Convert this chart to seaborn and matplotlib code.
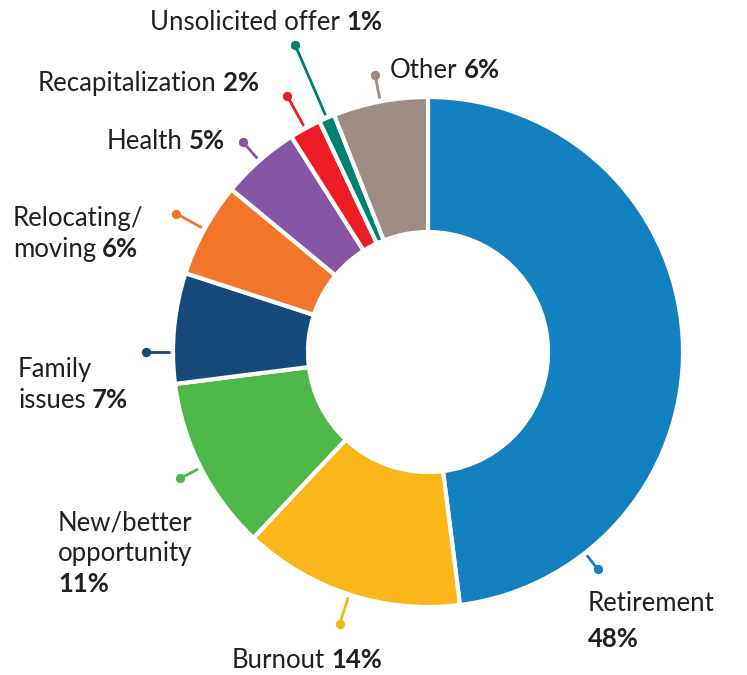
import numpy as np
import seaborn as sns
import matplotlib.pyplot as plt

# Share of reasons (percent)
reasons = ["Retirement", "Burnout", "New/better opportunity", "Family issues",
           "Relocating/moving", "Health", "Recapitalization", "Unsolicited offer", "Other"]
shares = [48, 14, 11, 7, 6, 5, 2, 1, 6]
colors = ["#1380C0", "#FBB61A", "#4DB848", "#154A7B", "#F4762A",
          "#8655A3", "#EE1D25", "#00806E", "#9C8C84"]

# label rows: (normal part, bold part)
label_rows = [
    [("Retirement", ""), ("", "48%")],
    [("Burnout ", "14%")],
    [("New/better", ""), ("opportunity", ""), ("", "11%")],
    [("Family", ""), ("issues ", "7%")],
    [("Relocating/", ""), ("moving ", "6%")],
    [("Health ", "5%")],
    [("Recapitalization ", "2%")],
    [("Unsolicited offer ", "1%")],
    [("Other ", "6%")],
]

sns.set_theme(style="white")
plt.rcParams['font.family'] = ['Lato', 'DejaVu Sans']

W, H = 747, 675
fig = plt.figure(figsize=(W / 100, H / 100), dpi=100)
ax = fig.add_axes([0, 0, 1, 1])
ax.set_xlim(0, W)
ax.set_ylim(0, H)
ax.axis('off')

cx, cy = 428, H - 352
R = 255
ax.pie(shares, colors=colors, startangle=90, counterclock=False, radius=R,
       center=(cx, cy), frame=True,
       wedgeprops=dict(width=135, edgecolor='white', linewidth=3))
ax.set_xlim(0, W)
ax.set_ylim(0, H)
ax.set_aspect('equal')
ax.axis('off')

# leader line angles: wedge midpoints, a couple nudged like the original
cum = np.cumsum([0] + shares[:-1])
angles = [90 - 3.6 * (c + s / 2) for c, s in zip(cum, shares)]
angles[0] = -52
angles[3] = 180
dot_r = [276, 286, 278, 282, 287, 280, 292, 334, 282]
for ang, r2, col in zip(angles, dot_r, colors):
    a = np.deg2rad(ang)
    x1, y1 = cx + (R + 3) * np.cos(a), cy + (R + 3) * np.sin(a)
    x2, y2 = cx + r2 * np.cos(a), cy + r2 * np.sin(a)
    ax.plot([x1, x2], [y1, y2], color=col, lw=2, solid_capstyle='butt')
    ax.scatter([x2], [y2], s=45, color=col, zorder=5, linewidths=0)

# label anchors (left x, first baseline in px from top, line spacing)
label_pos = [(588, 611, 36), (232, 668, 31), (58, 530, 31), (18, 377, 31),
             (13, 226, 31), (107, 149, 31), (38, 91, 31), (150, 30, 31), (390, 78, 31)]

fig.canvas.draw()
renderer = fig.canvas.get_renderer()
fs = 18.5
tcol = "#231F20"
for rows, (lx, ly, sp) in zip(label_rows, label_pos):
    for i, (norm, bold) in enumerate(rows):
        y = H - (ly + i * sp)
        x = lx
        if norm:
            t = ax.text(lx, y, norm.rstrip(), fontsize=fs, color=tcol,
                        ha='left', va='baseline')
            w = t.get_window_extent(renderer).width
            x = lx + w + (6 if norm.endswith(" ") else 0)
        if bold:
            ax.text(x, y, bold, fontsize=fs, color=tcol, fontweight='bold',
                    ha='left', va='baseline')

fig.savefig("out.png", dpi=100)
